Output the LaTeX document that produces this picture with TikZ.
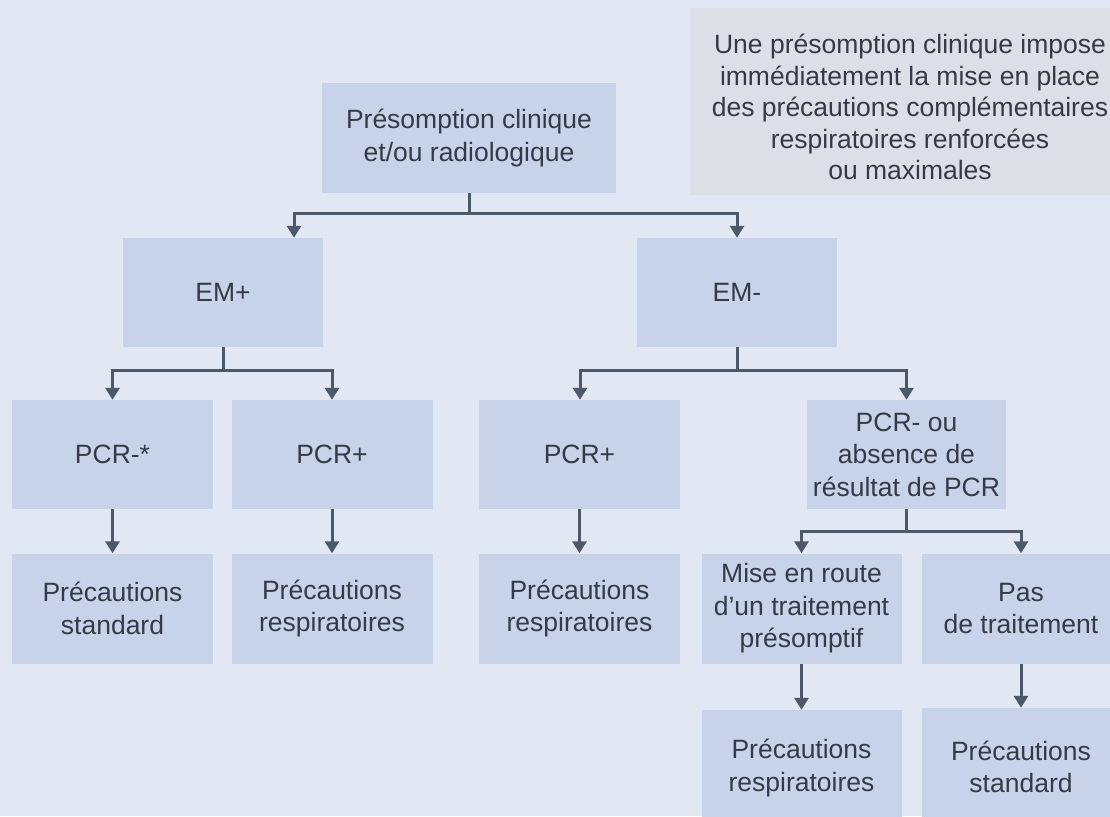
\documentclass[tikz,border=0pt]{standalone}
\usepackage{fontspec}
\setmainfont{Liberation Sans}
\usetikzlibrary{arrows.meta}
\definecolor{bg}{HTML}{E1E8F4}
\definecolor{boxc}{HTML}{C8D3EA}
\definecolor{notec}{HTML}{DCE0E6}
\definecolor{txt}{HTML}{353A46}
\definecolor{linec}{HTML}{4D5868}
\tikzset{
  box/.style={fill=boxc, minimum width=201pt, minimum height=110pt, align=center, text=txt, inner sep=0pt,
    font=\fontsize{26.5}{32.5}\selectfont},
  conn/.style={draw=linec, line width=3pt},
  arr/.style={conn, -{Triangle[width=14pt,length=12pt]}},
}
\begin{document}
\begin{tikzpicture}[x=1pt,y=-1pt]
\fill[bg] (0,0) rectangle (1110,816);
\useasboundingbox (0,0) rectangle (1110,816);
\clip (0,0) rectangle (1110,816);
\node[box, fill=notec, minimum width=435pt, minimum height=187pt] (note) at (907.5,101.5) {};
\node[box, fill=none, font=\fontsize{26.5}{31.5}\selectfont] (notetxt) at (910,107)
  {Une présomption clinique impose\\immédiatement la mise en place\\des précautions complémentaires\\respiratoires renforcées\\ou maximales};
\node[box, minimum width=294pt] (top) at (469,138) {Présomption clinique\\et/ou radiologique};
\node[box, minimum width=200pt, minimum height=109pt] (emp) at (223,292.5) {EM+};
\node[box, minimum width=200pt, minimum height=109pt] (emm) at (737,292.5) {EM-};
\node[box, minimum height=109pt] (pa) at (112.5,454.5) {PCR-*};
\node[box, minimum height=109pt] (pb) at (332,454.5) {PCR+};
\node[box, minimum height=109pt] (pc) at (579.5,454.5) {PCR+};
\node[box, minimum width=199pt, minimum height=109pt] (pd) at (906.5,454.5) {PCR- ou\\absence de\\résultat de PCR};
\node[box] (ra) at (112.5,608.5) {Précautions\\standard};
\node[box] (rb) at (332,608.5) {Précautions\\respiratoires};
\node[box] (rc) at (579.5,608.5) {Précautions\\respiratoires};
\node[box, minimum width=200pt] (rd) at (801.5,608.5) {Mise en route\\d'un traitement\\présomptif};
\node[box, minimum width=198pt] (re) at (1021,608.5) {Pas\\de traitement};
\node[box, minimum width=200pt, minimum height=116pt] (sa) at (801.5,768) {Précautions\\respiratoires};
\node[box, minimum width=198pt, minimum height=118pt] (sb) at (1021,767) {Précautions\\standard};
% connectors
\draw[conn] (top.south) -- ++(0,20) coordinate (j1);
\draw[arr] (j1) -| ([xshift=71pt]emp.north);
\draw[arr] (j1) -| (emm.north);
\draw[conn] (emp.south) -- ++(0,23) coordinate (j2);
\draw[arr] (j2) -| (pa.north);
\draw[arr] (j2) -| (pb.north);
\draw[conn] (emm.south) -- ++(0,23) coordinate (j3);
\draw[arr] (j3) -| ([xshift=0.5pt]pc.north);
\draw[arr] (j3) -| (pd.north);
\draw[conn] (pd.south) -- ++(0,22) coordinate (j4);
\draw[arr] (j4) -| (rd.north);
\draw[arr] (j4) -| (re.north);
\draw[arr] (pa.south) -- (ra.north);
\draw[arr] (pb.south) -- (rb.north);
\draw[arr] (pc.south) -- (rc.north);
\draw[arr] (rd.south) -- (sa.north);
\draw[arr] (re.south) -- (sb.north);
\end{tikzpicture}
\end{document}
